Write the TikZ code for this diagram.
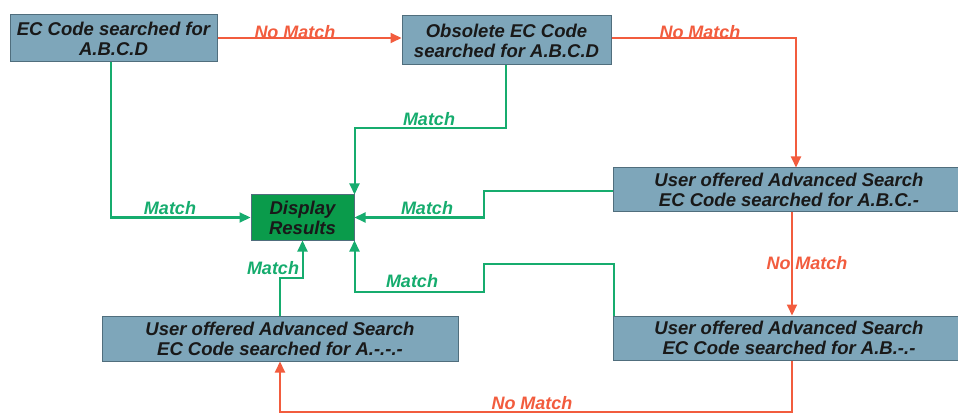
\documentclass[tikz,border=0pt]{standalone}
\usepackage{fontspec}
\setmainfont{Liberation Sans}
\usetikzlibrary{arrows.meta}
\definecolor{boxfill}{RGB}{126,166,186}
\definecolor{boxline}{RGB}{80,110,125}
\definecolor{dispfill}{RGB}{10,155,75}
\definecolor{gline}{RGB}{22,172,110}
\definecolor{rline}{RGB}{242,92,62}
\begin{document}
\begin{tikzpicture}[x=1pt,y=-1pt,
  box/.style={draw=boxline,line width=1pt,fill=boxfill,align=center,inner sep=0pt,
    font=\fontsize{18.5}{20}\selectfont\bfseries\itshape,text=black!90},
  gconn/.style={draw=gline,line width=2pt,-{Triangle[length=11pt,width=10pt]}},
  rconn/.style={draw=rline,line width=2pt,-{Triangle[length=11pt,width=10pt]}},
  glab/.style={text=gline,font=\fontsize{18}{20}\selectfont\bfseries\itshape},
  rlab/.style={text=rline,font=\fontsize{18}{20}\selectfont\bfseries\itshape}]
\useasboundingbox (0,0) rectangle (958,414);
\node[box,minimum width=207,minimum height=47] (b1) at (113.5,38.5) {EC Code searched for\\A.B.C.D};
\node[box,minimum width=209,minimum height=49] (b2) at (506.5,40.5) {Obsolete EC Code\\searched for A.B.C.D};
\node[box,fill=dispfill,minimum width=103,minimum height=45] (disp) at (302.5,217.5) {Display\\Results};
\node[box,minimum width=352,minimum height=44] (b3) at (789,190) {User offered Advanced Search\\EC Code searched for A.B.C.-};
\node[box,minimum width=352,minimum height=44] (b4) at (789,338) {User offered Advanced Search\\EC Code searched for A.B.-.-};
\node[box,minimum width=356,minimum height=45] (b5) at (280,338.5) {User offered Advanced Search\\EC Code searched for A.-.-.-};
% coordinates
\coordinate (r1) at (796,38);
\coordinate (r2) at (792,412);
\coordinate (g1) at (506,128);
\coordinate (g2) at (484,191);
\coordinate (g3) at (614,264);
\coordinate (g4) at (484,292);
\coordinate (g5) at (280,278);
% red connectors
\draw[rconn] (b1.east |- 0,38) -- (b2.west |- 0,38);
\draw[rconn] (b2.east |- r1) -- (r1) -- (r1 |- b3.north);
\draw[rconn] (b3.south -| r1) ++(-4,0) coordinate (r3) -- (r3 |- b4.north);
\draw[rconn] (b4.south -| r2) -- (r2) -| (b5.south);
% green connectors
\draw[gconn] (b1.south -| 111,0) |- (disp.west);
\draw[gconn] (b2.south -| g1) -- (g1) -| (disp.north east);
\draw[gconn] (b3.west |- g2) -- (g2) |- (disp.east);
\draw[gconn] (b4.north -| g3) -- (g3) -- (g3 -| g4) -- (g4) -| (disp.south east);
\draw[gconn] (b5.north -| g5) -- (g5) -| (disp.south);
% labels
\node[rlab] (l1) at (295,32) {No Match};
\node[rlab] (l2) at (700,32) {No Match};
\node[rlab] (l3) at (807,263) {No Match};
\node[rlab] (l4) at (532,403) {No Match};
\node[glab] (m1) at (170,208) {Match};
\node[glab] (m2) at (429,119) {Match};
\node[glab] (m3) at (427,208) {Match};
\node[glab] (m4) at (412,281) {Match};
\node[glab] (m5) at (273,268) {Match};
\end{tikzpicture}
\end{document}
